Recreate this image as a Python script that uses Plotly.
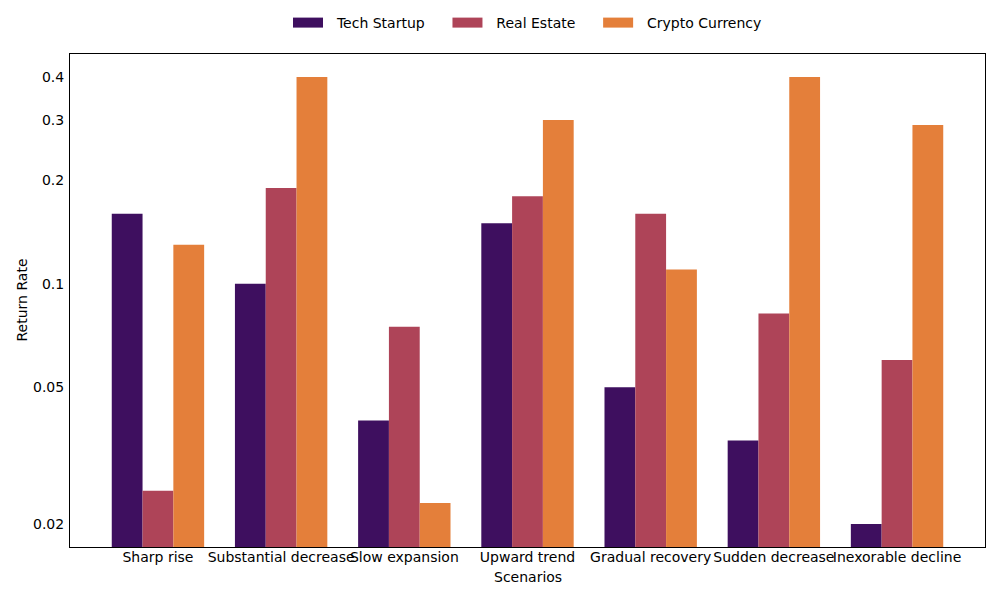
import plotly.graph_objects as go

scenarios = ["Sharp rise", "Substantial decrease", "Slow expansion", "Upward trend",
             "Gradual recovery", "Sudden decrease", "Inexorable decline"]
tech_startup = [0.16, 0.10, 0.04, 0.15, 0.05, 0.035, 0.02]
real_estate = [0.025, 0.19, 0.075, 0.18, 0.16, 0.082, 0.06]
crypto_currency = [0.13, 0.40, 0.023, 0.30, 0.11, 0.40, 0.29]

series = [("Tech Startup", tech_startup, "#3e0f5f"),
          ("Real Estate", real_estate, "#ae4458"),
          ("Crypto Currency", crypto_currency, "#e47f3a")]

tick_vals = [0.02, 0.05, 0.1, 0.2, 0.3, 0.4]
tick_text = ["0.02", "0.05", "0.1", "0.2", "0.3", "0.4"]

NB = "\u00a0"

fig = go.Figure()
for name, vals, color in series:
    fig.add_trace(go.Bar(x=scenarios, y=vals, name=name, showlegend=False,
                         marker=dict(color=color, line=dict(width=0))))
# legend entries drawn as wide rectangles
for i, (name, vals, color) in enumerate(series):
    trail = NB * 4 if i < len(series) - 1 else ""
    fig.add_trace(go.Scatter(x=[None], y=[None], name=NB * 2 + name + trail,
                             mode="lines", line=dict(color=color, width=10)))

font = dict(family="DejaVu Sans", size=14, color="black")
# page body has an 8px margin; compensate so the plot lands where the reference has it
fig.update_layout(
    width=992, height=592,
    margin=dict(l=62, r=15, t=46, b=53, autoexpand=False),
    barmode="group", bargap=0.25, bargroupgap=0,
    plot_bgcolor="white", paper_bgcolor="white",
    font=font,
    legend=dict(orientation="h", x=0.5, xanchor="center", xref="paper",
                y=1 - 15 / 592, yanchor="middle", yref="container",
                font=font, itemwidth=30, traceorder="normal"),
    xaxis=dict(showline=True, mirror=True, linecolor="black", linewidth=1,
               ticks="", showgrid=False, range=[-0.714, 6.714], automargin=False,
               tickangle=0, tickfont=font, ticklabelstandoff=-3),
    yaxis=dict(type="log", showline=True, mirror=True, linecolor="black", linewidth=1,
               ticks="", showgrid=False, range=[-1.766, -0.331], automargin=False,
               tickvals=tick_vals, ticktext=tick_text, tickfont=font,
               ticklabelstandoff=2),
    annotations=[
        dict(text="Scenarios", xref="paper", yref="paper", x=0.5, y=0,
             yshift=-30, xanchor="center", yanchor="middle",
             showarrow=False, font=font),
        dict(text="Return Rate", xref="paper", yref="paper", x=0, xshift=-49,
             y=0.5, xanchor="center", yanchor="middle", textangle=-90,
             showarrow=False, font=font),
    ],
)
fig.write_html("out.html")
